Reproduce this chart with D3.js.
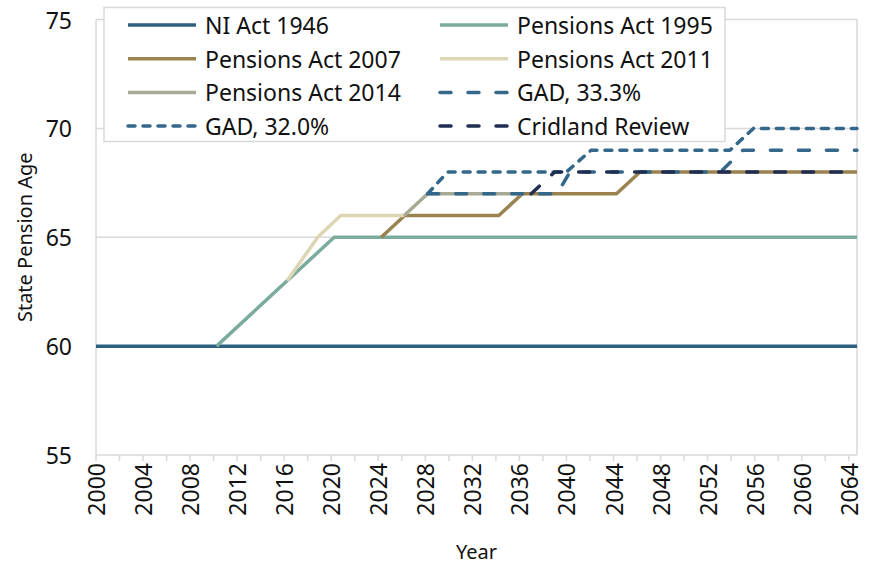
<!DOCTYPE html>
<html>
<head>
<meta charset="utf-8">
<script src="https://cdn.jsdelivr.net/npm/d3@7"></script>
<style>
  body { margin: 0; background: #fff; }
  svg { display: block; }
  text { font-family: "Noto Sans", sans-serif; fill: #111; }
</style>
</head>
<body>
<svg id="chart" width="870" height="567"></svg>
<script>
// tick labels
var yearTicks = d3.range(2000, 2065, 4);
var minorYearTicks = d3.range(2000, 2065, 2);
var ageTicks = [55, 60, 65, 70, 75];

// series (year, state pension age)
var niYears = [2000, 2064.7];
var niAges = [60, 60];
var pa1995Years = [2010.25, 2020.25, 2064.7];
var pa1995Ages = [60, 65, 65];
var pa2007Years = [2024.25, 2026.25, 2034.25, 2036.25, 2044.25, 2046.25, 2064.7];
var pa2007Ages = [65, 66, 66, 67, 67, 68, 68];
var pa2011Years = [2016.25, 2018.85, 2020.8, 2026.2];
var pa2011Ages = [63, 65, 66, 66];
var pa2014Years = [2026.2, 2028.2, 2036.25];
var pa2014Ages = [66, 67, 67];
var gad333Years = [2028.2, 2039.2, 2040.3, 2053.1, 2055, 2064.7];
var gad333Ages = [67, 67, 68, 68, 69, 69];
var gad320Years = [2028.2, 2029.9, 2040, 2042.1, 2053.9, 2055.9, 2064.7];
var gad320Ages = [67, 68, 68, 69, 69, 70, 70];
var cridlandYears = [2037, 2039, 2064.7];
var cridlandAges = [67, 68, 68];

var series = [
    {name: "NI Act 1946", years: niYears, ages: niAges, color: "#2f5f7e", dash: null},
    {name: "Pensions Act 1995", years: pa1995Years, ages: pa1995Ages, color: "#7aab9e", dash: null},
    {name: "Pensions Act 2007", years: pa2007Years, ages: pa2007Ages, color: "#9b8350", dash: null},
    {name: "Pensions Act 2011", years: pa2011Years, ages: pa2011Ages, color: "#ddd6b5", dash: null},
    {name: "Pensions Act 2014", years: pa2014Years, ages: pa2014Ages, color: "#a9aa96", dash: null},
    {name: "GAD, 33.3%", years: gad333Years, ages: gad333Ages, color: "#34688a", dash: "11,17"},
    {name: "GAD, 32.0%", years: gad320Years, ages: gad320Ages, color: "#34688a", dash: "7,8"},
    {name: "Cridland Review", years: cridlandYears, ages: cridlandAges, color: "#1f2e52", dash: "11,17"}
];

var svg = d3.select("#chart"),
    plotLeft = 96, plotRight = 857, plotTop = 19.5, plotBottom = 455,
    grey = "#d9d9d9";

var x = d3.scaleLinear().domain([2000, 2064.7]).range([plotLeft, plotRight]);
var y = d3.scaleLinear().domain([55, 75]).range([plotBottom, plotTop]);

// gridlines + frame
svg.append("g").selectAll("line")
    .data(ageTicks)
    .enter().append("line")
    .attr("x1", plotLeft).attr("x2", plotRight)
    .attr("y1", function (d) { return y(d); })
    .attr("y2", function (d) { return y(d); })
    .attr("stroke", grey).attr("stroke-width", 1.5);

svg.append("line").attr("x1", plotLeft).attr("x2", plotLeft).attr("y1", plotTop).attr("y2", plotBottom)
    .attr("stroke", grey).attr("stroke-width", 1.5);
svg.append("line").attr("x1", plotRight).attr("x2", plotRight).attr("y1", plotTop).attr("y2", plotBottom)
    .attr("stroke", grey).attr("stroke-width", 1.5);

// x axis ticks
svg.append("g").selectAll("line")
    .data(minorYearTicks)
    .enter().append("line")
    .attr("x1", function (d) { return x(d); })
    .attr("x2", function (d) { return x(d); })
    .attr("y1", plotBottom).attr("y2", plotBottom + 6)
    .attr("stroke", grey).attr("stroke-width", 1.5);

svg.append("g").selectAll("text")
    .data(yearTicks)
    .enter().append("text")
    .attr("transform", function (d) { return "translate(" + x(d) + "," + (plotBottom + 8) + ") rotate(-90)"; })
    .attr("text-anchor", "end")
    .attr("dominant-baseline", "central")
    .style("font-size", "23px")
    .text(function (d) { return d; });

// y axis labels
svg.append("g").selectAll("text")
    .data(ageTicks)
    .enter().append("text")
    .attr("x", 72)
    .attr("y", function (d) { return y(d); })
    .attr("text-anchor", "end")
    .attr("dominant-baseline", "central")
    .style("font-size", "23px")
    .text(function (d) { return d; });

svg.append("text")
    .attr("transform", "translate(24," + ((plotTop + plotBottom) / 2) + ") rotate(-90)")
    .attr("text-anchor", "middle")
    .attr("dominant-baseline", "central")
    .style("font-size", "20px")
    .text("State Pension Age");

svg.append("text")
    .attr("x", (plotLeft + plotRight) / 2).attr("y", 551)
    .attr("text-anchor", "middle")
    .attr("dominant-baseline", "central")
    .style("font-size", "20px")
    .text("Year");

// lines
var line = d3.line()
    .x(function (d) { return x(d[0]); })
    .y(function (d) { return y(d[1]); });

svg.append("g").selectAll("path")
    .data(series)
    .enter().append("path")
    .attr("d", function (s) { return line(d3.zip(s.years, s.ages)); })
    .attr("fill", "none")
    .attr("stroke", function (s) { return s.color; })
    .attr("stroke-width", 3.5)
    .attr("stroke-linecap", function (s) { return s.dash ? "round" : "butt"; })
    .attr("stroke-linejoin", "round")
    .attr("stroke-dasharray", function (s) { return s.dash; });

// legend
var legend = svg.append("g");
legend.append("rect")
    .attr("x", 104).attr("y", 7.5).attr("width", 621).attr("height", 134)
    .attr("fill", "#fff").attr("stroke", grey).attr("stroke-width", 1.5);

var items = legend.selectAll("g.item")
    .data(series)
    .enter().append("g")
    .attr("class", "item")
    .attr("transform", function (s, i) {
        var col = i % 2, row = Math.floor(i / 2);
        return "translate(" + (col ? 440 : 128) + "," + (25 + row * 33.7) + ")";
    });

items.append("line")
    .attr("x1", 0).attr("x2", 68).attr("y1", 0).attr("y2", 0)
    .attr("stroke", function (s) { return s.color; })
    .attr("stroke-width", 3.5)
    .attr("stroke-linecap", function (s) { return s.dash ? "round" : "butt"; })
    .attr("stroke-dasharray", function (s) { return s.dash; });

items.append("text")
    .attr("x", 77).attr("y", 0)
    .attr("dominant-baseline", "central")
    .style("font-size", "23px")
    .text(function (s) { return s.name; });
</script>
</body>
</html>
